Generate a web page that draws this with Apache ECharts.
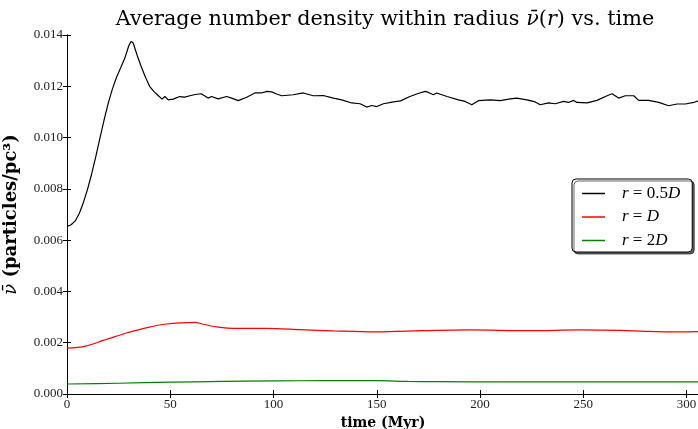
<!DOCTYPE html>
<html>
<head>
<meta charset="utf-8">
<script src="https://cdn.jsdelivr.net/npm/echarts@6/dist/echarts.min.js"></script>
<style>html,body{margin:0;padding:0;background:#fff}#c{width:698px;height:429px}</style>
</head>
<body>
<div id="c"></div>
<script>
// ---- data ----
const seriesNames = ['r = 0.5D', 'r = D', 'r = 2D'];
const xTicks = [0, 50, 100, 150, 200, 250, 300];
const yTicks = [0.000, 0.002, 0.004, 0.006, 0.008, 0.010, 0.012, 0.014];

const tHalfD = [0,2,4,6,8,10,12,14,16,18,20,22,24,26,28,30,31,32,34,36,38,40,42,44,46,47.4,49,51.4,54.6,57,59.5,62,65,68.3,70,73.2,77.3,79.7,82.9,87,91,94.2,96.7,99.1,101.5,104,109.5,114.4,119.2,124.1,129,133,137.9,141.9,145.1,147.6,150,153.2,158.1,161.5,166,170,173.4,175,177.4,179,184,189.5,192.8,196,199.2,204.9,209.8,214.6,217.8,222.7,226.7,229.1,233.2,236.4,240.4,242.9,245.3,246.9,251.8,256.6,261.5,263.9,267.1,270.3,274.4,276.8,281.6,286.5,291.3,295.4,299.4,303.5,306];
const vHalfD = [0.00653,0.00660,0.00675,0.00705,0.00748,0.00800,0.00860,0.00928,0.01000,0.01070,0.01135,0.01190,0.01235,0.01272,0.01310,0.01360,0.01375,0.01370,0.01320,0.01275,0.01235,0.01200,0.01180,0.01165,0.01150,0.01160,0.01147,0.01150,0.01160,0.01158,0.01163,0.01168,0.01171,0.01154,0.01160,0.01151,0.01160,0.01154,0.01144,0.01157,0.01174,0.01174,0.01180,0.01178,0.01170,0.01163,0.01167,0.01174,0.01163,0.01164,0.01154,0.01147,0.01135,0.01132,0.01119,0.01125,0.01121,0.01132,0.01139,0.01143,0.01160,0.01172,0.01180,0.01176,0.01167,0.01174,0.01160,0.01147,0.01141,0.01128,0.01144,0.01147,0.01144,0.01151,0.01154,0.01147,0.01139,0.01128,0.01135,0.01132,0.01141,0.01137,0.01145,0.01137,0.01135,0.01145,0.01163,0.01171,0.01154,0.01163,0.01163,0.01145,0.01145,0.01137,0.01124,0.01131,0.01131,0.01137,0.01145];

const tD = [0,4,8.6,13,17.5,23,28.8,34,39.3,44,48.2,55,61.9,66,72.4,82,96.7,112.8,129,150,172.6,195,224,248.6,268,281,297,306];
const vD = [0.00179,0.00181,0.00186,0.00196,0.00209,0.00223,0.00238,0.00249,0.00260,0.00268,0.00273,0.00277,0.00279,0.00272,0.00262,0.00256,0.00256,0.00251,0.00246,0.00242,0.00247,0.00250,0.00247,0.00250,0.00248,0.00244,0.00242,0.00243];

const t2D = [0,25,50,75,100,125,150,165,180,210,250,306];
const v2D = [0.00039,0.00042,0.00046,0.00049,0.00051,0.00052,0.00052,0.00049,0.00048,0.00047,0.00047,0.00047];

// ---- chart ----
const zip = (t, v) => t.map((x, i) => [x, v[i]]);
const serif = '"Liberation Serif", "DejaVu Serif", serif';
const wide = '"DejaVu Serif", "Liberation Serif", serif';
const chart = echarts.init(document.getElementById('c'), null, {renderer: 'canvas'});

const baseAxisLine = {show: true, lineStyle: {color: '#000', width: 1}};
const tick = {show: true, inside: true, length: 4, lineStyle: {color: '#000', width: 1}};

chart.setOption({
  animation: false,
  backgroundColor: '#fff',
  title: {
    text: 'Average number density within radius {n|\u03BD\u0304}({i|r}) vs. time',
    left: 380, textAlign: 'center', top: 4,
    textStyle: {
      fontFamily: wide, fontSize: 20.8, fontWeight: 'normal', color: '#000',
      rich: {
        n: {fontFamily: wide, fontSize: 20.8, fontStyle: 'italic', color: '#000'},
        i: {fontFamily: wide, fontSize: 20.8, fontStyle: 'italic', color: '#000'}
      }
    }
  },
  grid: {left: 67, top: 35, width: 632, bottom: 35, containLabel: false, outerBoundsMode: 'none'},
  legend: {
    data: seriesNames,
    orient: 'vertical',
    left: 572, top: 179,
    padding: [6, 12, 3, 10],
    itemGap: 6.5,
    itemWidth: 23, itemHeight: 1.5,
    icon: 'rect',
    backgroundColor: '#fff',
    borderColor: '#000', borderWidth: 1, borderRadius: 4,
    shadowColor: 'rgba(0,0,0,0.6)', shadowBlur: 0, shadowOffsetX: 2, shadowOffsetY: 2,
    formatter: function (name) {
      const rhs = name.split('= ')[1];
      const m = rhs.match(/^([0-9.]*)D$/);
      return '{s|}{i|r} = ' + (m[1] ? m[1] : '') + '{i|D}';
    },
    textStyle: {
      fontFamily: serif, fontSize: 17, color: '#000', lineHeight: 16,
      rich: {
        s: {width: 12},
        i: {fontFamily: serif, fontSize: 17, fontStyle: 'italic', color: '#000'}
      }
    }
  },
  xAxis: [{
    type: 'value', min: 0, max: 306, interval: 50,
    name: 'time (Myr)', nameLocation: 'middle', nameGap: 20,
    nameTextStyle: {fontFamily: wide, fontSize: 14, fontWeight: 'bold', color: '#000'},
    axisLine: baseAxisLine, axisTick: tick,
    axisLabel: {
      fontFamily: serif, fontSize: 13, color: '#222', margin: 4,
      customValues: xTicks, formatter: v => String(v)
    },
    splitLine: {show: false}
  }, {
    type: 'value', position: 'top', min: 0, max: 306, interval: 50,
    axisLine: baseAxisLine, axisTick: tick, axisLabel: {show: false}, splitLine: {show: false}
  }],
  yAxis: [{
    type: 'value', min: 0, max: 0.014, interval: 0.002,
    name: '{n|\u03BD\u0304} (particles/pc\u00B3)', nameLocation: 'middle', nameGap: 47,
    nameTextStyle: {fontFamily: wide, fontSize: 18, fontWeight: 'bold', color: '#000',
      rich: {n: {fontFamily: wide, fontSize: 18, fontStyle: 'italic', fontWeight: 'normal', color: '#000'}}},
    axisLine: baseAxisLine, axisTick: tick,
    axisLabel: {fontFamily: serif, fontSize: 13, color: '#222', margin: 4,
      customValues: yTicks, formatter: v => v.toFixed(3)},
    splitLine: {show: false}
  }, {
    type: 'value', position: 'right', min: 0, max: 0.014, interval: 0.002,
    axisLine: baseAxisLine, axisTick: tick, axisLabel: {show: false}, splitLine: {show: false}
  }],
  series: [
    {name: seriesNames[0], type: 'line', data: zip(tHalfD, vHalfD), symbol: 'none',
     lineStyle: {color: '#000', width: 1.2}, itemStyle: {color: '#000'}},
    {name: seriesNames[1], type: 'line', data: zip(tD, vD), symbol: 'none', smooth: 0.3,
     lineStyle: {color: '#ff0000', width: 1.2}, itemStyle: {color: '#ff0000'}},
    {name: seriesNames[2], type: 'line', data: zip(t2D, v2D), symbol: 'none', smooth: 0.3,
     lineStyle: {color: '#008000', width: 1.2}, itemStyle: {color: '#008000'}}
  ]
});
</script>
</body>
</html>
